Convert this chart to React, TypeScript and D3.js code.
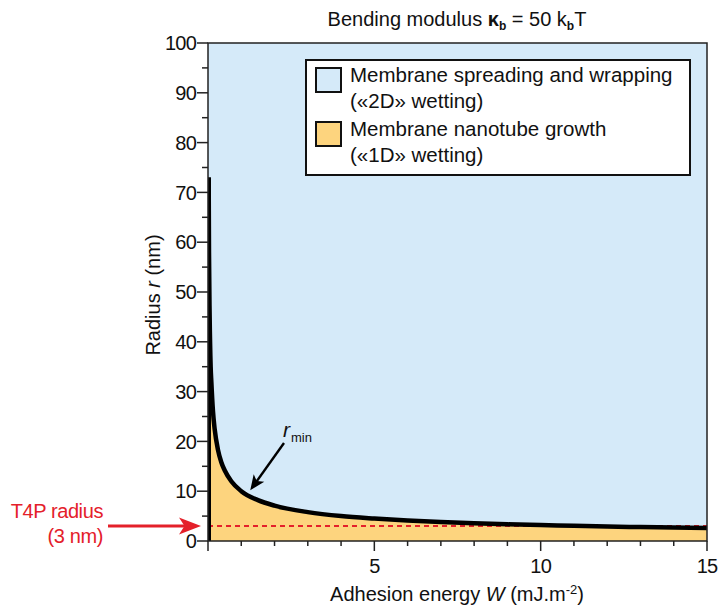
import * as React from "react";
import * as d3 from "d3";

// values
const adhesionEnergy = [0.02, 0.03, 0.05, 0.08, 0.1, 0.15, 0.2, 0.3, 0.4, 0.5, 0.7, 1, 1.5, 2, 3, 4, 5, 6, 7, 8, 9, 10, 11, 12, 13, 14, 15];
const rMin = [73, 58, 45, 35, 32, 26, 22.5, 18.3, 15.8, 14.2, 12, 10, 8.2, 7.1, 5.8, 5.0, 4.5, 4.1, 3.8, 3.55, 3.35, 3.2, 3.05, 2.9, 2.8, 2.7, 2.6];
const t4pRadius = 3;
const yTicks = [0, 10, 20, 30, 40, 50, 60, 70, 80, 90, 100];
const yMinorTicks = [5, 15, 25, 35, 45, 55, 65, 75, 85, 95];
const xTicks = [5, 10, 15];
const xMinorTicks = [1, 2, 3, 4, 6, 7, 8, 9, 11, 12, 13, 14];
const legendLabels = [
  ["Membrane spreading and wrapping", "(«2D» wetting)"],
  ["Membrane nanotube growth", "(«1D» wetting)"]
];

const BLUE = "#d5eaf9";
const ORANGE = "#fdd47e";
const RED = "#e4202a";
const FONT = "'Liberation Sans', Arial, sans-serif";

export default function App() {
  React.useEffect(() => {
    document.body.style.margin = "0";
  }, []);

  const margin = { left: 208, right: 707, top: 43, bottom: 541 };
  const x = d3.scaleLinear().domain([0, 15]).range([margin.left, margin.right]);
  const y = d3.scaleLinear().domain([0, 100]).range([margin.bottom, margin.top]);

  const data = adhesionEnergy.map((w, i) => ({ w, r: rMin[i] }));

  const area = d3.area<{ w: number; r: number }>()
    .x(d => x(d.w))
    .y0(y(0))
    .y1(d => y(d.r))
    .curve(d3.curveMonotoneX);
  const line = d3.line<{ w: number; r: number }>()
    .x(d => x(d.w))
    .y(d => y(d.r))
    .curve(d3.curveMonotoneX);

  // area needs to start at the axis
  const areaData = [{ w: 0, r: rMin[0] }].concat(data);

  const legendItems = [BLUE, ORANGE];

  // r_min arrow
  const arrowFrom = { x: 284, y: 443 };
  const arrowTo = { x: x(1.27), y: y(10.2) };
  const ang = Math.atan2(arrowTo.y - arrowFrom.y, arrowTo.x - arrowFrom.x);
  const head = (tx: number, ty: number, len: number, half: number, a: number) => {
    const bx = tx - len * Math.cos(a), by = ty - len * Math.sin(a);
    const nx = -Math.sin(a) * half, ny = Math.cos(a) * half;
    const ix = tx - len * 0.75 * Math.cos(a), iy = ty - len * 0.75 * Math.sin(a);
    return `M${tx},${ty}L${bx + nx},${by + ny}L${ix},${iy}L${bx - nx},${by - ny}Z`;
  };
  const redY = y(t4pRadius);

  return (
    <svg width={719} height={609} style={{ display: "block", fontFamily: FONT }}>
      <defs>
        <clipPath id="plot">
          <rect x={margin.left} y={margin.top} width={margin.right - margin.left} height={margin.bottom - margin.top} />
        </clipPath>
      </defs>

      {/* title */}
      <text x={457} y={26} textAnchor="middle" fontSize={20} fill="#111">
        Bending modulus <tspan fontWeight="bold">κ</tspan><tspan fontSize={12} dy={4} fontWeight="bold">b</tspan>
        <tspan dy={-4}> = 50 k</tspan><tspan fontSize={12} dy={4} fontWeight="bold">b</tspan><tspan dy={-4}>T</tspan>
      </text>

      {/* plot background */}
      <rect x={margin.left} y={margin.top} width={margin.right - margin.left} height={margin.bottom - margin.top} fill={BLUE} />

      <g clipPath="url(#plot)">
        <path d={area(areaData) || ""} fill={ORANGE} />
        <line x1={margin.left} x2={margin.right} y1={redY} y2={redY} stroke={RED} strokeWidth={2} strokeDasharray="5,4" />
        <path d={line(data) || ""} fill="none" stroke="#000" strokeWidth={4.5} strokeLinejoin="round" />
        <line x1={x(0) + 1.5} x2={x(0) + 1.5} y1={y(rMin[0])} y2={y(0)} stroke="#000" strokeWidth={3} />
      </g>

      {/* frame */}
      <rect x={margin.left} y={margin.top} width={margin.right - margin.left} height={margin.bottom - margin.top} fill="none" stroke="#222" strokeWidth={1.5} />

      {/* y axis */}
      <g>
        {yTicks.map(t => (
          <g key={t}>
            <line x1={margin.left - 11} x2={margin.left} y1={y(t)} y2={y(t)} stroke="#222" strokeWidth={1.5} />
            <text x={margin.left - 12} y={y(t)} dy="0.36em" textAnchor="end" fontSize={20} fill="#111" letterSpacing={-0.8}>{t}</text>
          </g>
        ))}
        {yMinorTicks.map(t => (
          <line key={t} x1={margin.left - 6} x2={margin.left} y1={y(t)} y2={y(t)} stroke="#222" strokeWidth={1.5} />
        ))}
      </g>

      {/* x axis */}
      <g>
        {[0].concat(xTicks).map(t => (
          <line key={t} x1={x(t)} x2={x(t)} y1={margin.bottom} y2={margin.bottom + 10} stroke="#222" strokeWidth={1.5} />
        ))}
        {xTicks.map(t => (
          <text key={t} x={x(t)} y={margin.bottom + 32} textAnchor="middle" fontSize={20} fill="#111" letterSpacing={-0.8}>{t}</text>
        ))}
        {xMinorTicks.map(t => (
          <line key={t} x1={x(t)} x2={x(t)} y1={margin.bottom} y2={margin.bottom + 5} stroke="#222" strokeWidth={1.5} />
        ))}
      </g>

      {/* axis titles */}
      <text transform={`translate(160,295) rotate(-90)`} textAnchor="middle" fontSize={20} fill="#111">
        Radius <tspan fontStyle="italic">r</tspan> (nm)
      </text>
      <text x={457} y={601} textAnchor="middle" fontSize={20} fill="#111">
        Adhesion energy <tspan fontStyle="italic">W</tspan> (mJ.m<tspan fontSize={13} dy={-7}>-2</tspan><tspan dy={7}>)</tspan>
      </text>

      {/* legend */}
      <g>
        <rect x={306} y={60} width={384} height={115} fill="#fff" stroke="#111" strokeWidth={2} />
        {legendItems.map((c, i) => (
          <g key={i} transform={`translate(0,${i * 54})`}>
            <rect x={316} y={68} width={25} height={24} fill={c} stroke="#111" strokeWidth={2} />
            <text x={350} y={82} fontSize={20.5} fill="#111">{legendLabels[i][0]}</text>
            <text x={350} y={108} fontSize={20.5} fill="#111">{legendLabels[i][1]}</text>
          </g>
        ))}
      </g>

      {/* r_min annotation */}
      <line x1={arrowFrom.x} y1={arrowFrom.y} x2={arrowTo.x + 8 * Math.cos(ang) * -1} y2={arrowTo.y - 8 * Math.sin(ang)} stroke="#000" strokeWidth={2.4} />
      <path d={head(arrowTo.x, arrowTo.y, 15, 6.5, ang)} fill="#000" />
      <text x={283} y={437} fontSize={21} fontStyle="italic" fill="#111">r</text>
      <text x={291} y={442} fontSize={13} fill="#111">min</text>

      {/* T4P radius */}
      <text x={103} y={518} textAnchor="end" fontSize={20} fill={RED} letterSpacing={-0.4}>T4P radius</text>
      <text x={103} y={543} textAnchor="end" fontSize={20} fill={RED} letterSpacing={-0.4}>(3 nm)</text>
      <line x1={108} x2={185} y1={redY} y2={redY} stroke={RED} strokeWidth={3} />
      <path d={head(201, redY, 22, 8.5, 0)} fill={RED} />
    </svg>
  );
}
